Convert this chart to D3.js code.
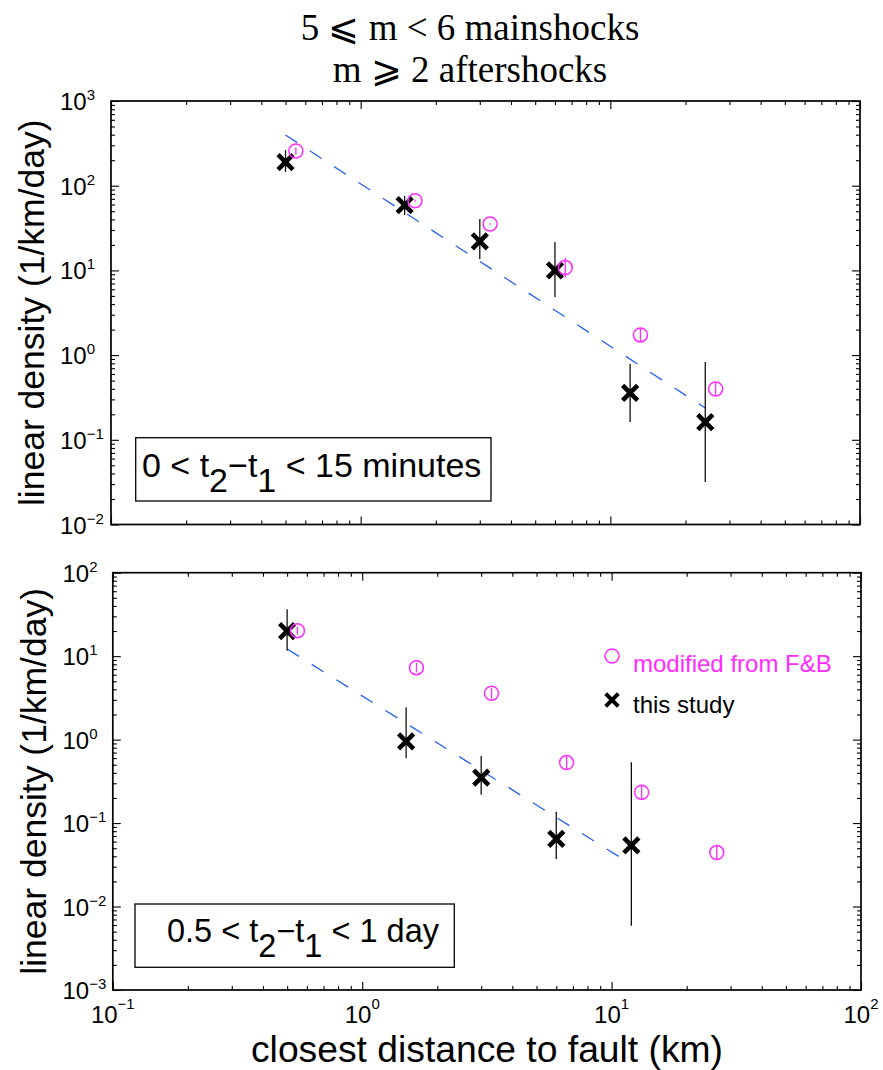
<!DOCTYPE html>
<html><head><meta charset="utf-8">
<script src="https://cdn.jsdelivr.net/npm/d3@7"></script>
<style>body{margin:0;background:#fff} svg{display:block}</style>
</head><body>
<script>
// ---------- data ----------
const titleLines = ["5 \u2A7D m < 6 mainshocks", "m \u2A7E 2 aftershocks"];
const yLabel = "linear density (1/km/day)";
const xLabel = "closest distance to fault (km)";

const xTickExp = [-1, 0, 1, 2];
const yTickExpTop = [-2, -1, 0, 1, 2, 3];
const yTickExpBot = [-3, -2, -1, 0, 1, 2];

// this study (top panel: 0 < t2-t1 < 15 minutes)
const distThisTop = [0.5, 1.5, 3, 6, 12, 24];
const densThisTop = [190, 59, 22, 10, 0.357, 0.162];
const errLoTop = [145, 45, 13.6, 4.85, 0.162, 0.0318];
const errHiTop = [263, 75.5, 40.5, 21.6, 0.785, 0.83];
// modified from F&B (top)
const distFB = [0.55, 1.65, 3.3, 6.6, 13.2, 26.4];
const densFBTop = [257, 66.5, 35.3, 10.8, 1.73, 0.398];
const fbLoTop = [234, 64.7, 34.5, 8.24, 1.45, 0.334];
const fbHiTop = [283, 68.4, 36.1, 14.1, 2.06, 0.474];
// fit (top)
const fitDistTop = [0.5, 24];
const fitDensTop = [397, 0.237];

// this study (bottom panel: 0.5 < t2-t1 < 1 day)
const distThisBot = [0.5, 1.5, 3, 6, 12];
const densThisBot = [20, 0.95, 0.35, 0.0647, 0.054];
const errLoBot = [11.6, 0.598, 0.218, 0.037, 0.0059];
const errHiBot = [36.5, 2.44, 0.638, 0.137, 0.536];
// modified from F&B (bottom)
const densFBBot = [20.2, 7.28, 3.59, 0.531, 0.234, 0.0443];
const fbLoBot = [18.1, 6.39, 3.09, 0.446, 0.19, 0.0369];
const fbHiBot = [22.6, 8.3, 4.16, 0.632, 0.288, 0.0532];
// fit (bottom)
const fitDistBot = [0.5, 12];
const fitDensBot = [12.2, 0.032];

const boxTop = ["0 < t", "2", "\u2212t", "1", " < 15 minutes"];
const boxBot = ["0.5 < t", "2", "\u2212t", "1", " < 1 day"];
const legendLabels = ["modified from F&B", "this study"];

// ---------- styles ----------
const MAG = "#ff2bff", BLUE = "#2460f2", SANS = "'Liberation Sans', Arial, Helvetica, sans-serif",
      SERIF = "'Liberation Serif', 'Times New Roman', serif";

const svg = d3.select("body").append("svg").attr("width", 883).attr("height", 1070);
svg.append("rect").attr("width", 883).attr("height", 1070).attr("fill", "#fff");

// title
svg.append("text").attr("x", 470).attr("y", 40).attr("text-anchor", "middle")
  .attr("font-family", SERIF).attr("font-size", 37).text(titleLines[0]);
svg.append("text").attr("x", 470).attr("y", 82).attr("text-anchor", "middle")
  .attr("font-family", SERIF).attr("font-size", 37).text(titleLines[1]);

function minorVals(lo, hi) {
  const out = [];
  for (let e = lo; e < hi; e++) for (let k = 2; k <= 9; k++) out.push(k * Math.pow(10, e));
  return out;
}

function panel(cfg) {
  const g = svg.append("g");
  const x = d3.scaleLog().domain([0.1, 100]).range([cfg.x0, cfg.x1]);
  const y = d3.scaleLog().domain([Math.pow(10, cfg.yExp[0]), Math.pow(10, cfg.yExp[cfg.yExp.length - 1])]).range([cfg.y1, cfg.y0]);
  const xMaj = xTickExp.map(e => Math.pow(10, e));
  const yMaj = cfg.yExp.map(e => Math.pow(10, e));
  const xMin = minorVals(-1, 2);
  const yMin = minorVals(cfg.yExp[0], cfg.yExp[cfg.yExp.length - 1]);

  const axes = [
    [d3.axisBottom(x), `translate(0,${cfg.y1})`, xMaj, xMin],
    [d3.axisTop(x), `translate(0,${cfg.y0})`, xMaj, xMin],
    [d3.axisLeft(y), `translate(${cfg.x0},0)`, yMaj, yMin],
    [d3.axisRight(y), `translate(${cfg.x1},0)`, yMaj, yMin]
  ];
  axes.forEach(([ax, tr, maj, min]) => {
    [[maj, 8], [min, 4]].forEach(([vals, len]) => {
      const a = g.append("g").attr("transform", tr)
        .call(ax.tickValues(vals).tickSize(-len).tickFormat(""));
      a.select(".domain").remove();
      a.selectAll(".tick line").attr("stroke", "#000").attr("stroke-width", 1.1);
    });
  });
  g.append("rect").attr("x", cfg.x0).attr("y", cfg.y0)
    .attr("width", cfg.x1 - cfg.x0).attr("height", cfg.y1 - cfg.y0)
    .attr("fill", "none").attr("stroke", "#000").attr("stroke-width", 1.7);

  // y tick labels
  cfg.yExp.forEach(e => {
    const t = g.append("text").attr("x", cfg.labX).attr("y", y(Math.pow(10, e)) + 9)
      .attr("font-family", SANS).attr("font-size", 24);
    t.append("tspan").text("10");
    t.append("tspan").attr("dy", -10).attr("font-size", 15).text(e < 0 ? "\u2212" + (-e) : String(e));
  });
  if (cfg.xLabels) {
    xTickExp.forEach(e => {
      const t = g.append("text").attr("x", x(Math.pow(10, e))).attr("y", 1023)
        .attr("text-anchor", "middle").attr("font-family", SANS).attr("font-size", 24);
      t.append("tspan").text("10");
      t.append("tspan").attr("dy", -14).attr("font-size", 15).text(e < 0 ? "\u2212" + (-e) : String(e));
    });
  }
  // y axis label
  g.append("text").attr("transform", `translate(${cfg.yLabX},${(cfg.y0 + cfg.y1) / 2}) rotate(-90)`)
    .attr("text-anchor", "middle").attr("font-family", SANS).attr("font-size", 35.5).text(yLabel);

  // fit line
  g.append("path").datum(cfg.fitDist.map((d, i) => [d, cfg.fitDens[i]]))
    .attr("d", d3.line().x(d => x(d[0])).y(d => y(d[1])))
    .attr("fill", "none").attr("stroke", BLUE).attr("stroke-width", 1.3).attr("stroke-dasharray", "14,15");

  // error bars (this study)
  g.selectAll(".eb").data(cfg.dist).enter().append("line")
    .attr("x1", d => x(d)).attr("x2", d => x(d))
    .attr("y1", (d, i) => y(cfg.lo[i])).attr("y2", (d, i) => y(cfg.hi[i]))
    .attr("stroke", "#111").attr("stroke-width", 1.3);
  // X markers
  g.selectAll(".xm").data(cfg.dist).enter().append("path")
    .attr("transform", (d, i) => `translate(${x(d)},${y(cfg.dens[i])})`)
    .attr("d", "M-7.5,-7.5L7.5,7.5M-7.5,7.5L7.5,-7.5")
    .attr("stroke", "#000").attr("stroke-width", 4.6).attr("fill", "none");
  // F&B error bars + circles
  g.selectAll(".fbe").data(distFB).enter().append("line")
    .attr("x1", d => x(d)).attr("x2", d => x(d))
    .attr("y1", (d, i) => y(cfg.fbLo[i])).attr("y2", (d, i) => y(cfg.fbHi[i]))
    .attr("stroke", MAG).attr("stroke-width", 1.3);
  g.selectAll(".fbc").data(distFB).enter().append("circle")
    .attr("cx", d => x(d)).attr("cy", (d, i) => y(cfg.fb[i])).attr("r", 7)
    .attr("fill", "none").attr("stroke", MAG).attr("stroke-width", 1.5);

  // condition box
  g.append("rect").attr("x", cfg.box[0]).attr("y", cfg.box[1]).attr("width", cfg.box[2]).attr("height", cfg.box[3])
    .attr("fill", "#fff").attr("stroke", "#000").attr("stroke-width", 1.3);
  const bt = g.append("text").attr("x", cfg.boxTextX).attr("y", cfg.boxTextY)
    .attr("font-family", SANS).attr("font-size", cfg.boxFont).style("white-space", "pre");
  const shifts = [0, 15, -15, 15, -15];
  cfg.boxText.forEach((s, i) => bt.append("tspan").attr("dy", shifts[i]).text(s));
  return {g, x, y};
}

panel({x0: 111, x1: 860, y0: 101, y1: 524.5, yExp: yTickExpTop, labX: 60, yLabX: 44,
  dist: distThisTop, dens: densThisTop, lo: errLoTop, hi: errHiTop,
  fb: densFBTop, fbLo: fbLoTop, fbHi: fbHiTop, fitDist: fitDistTop, fitDens: fitDensTop,
  box: [135.7, 437.7, 355.3, 63.3], boxText: boxTop, boxTextX: 142, boxTextY: 477, boxFont: 34, xLabels: false});

panel({x0: 112.8, x1: 861, y0: 572.7, y1: 990, yExp: yTickExpBot, labX: 62.5, yLabX: 46,
  dist: distThisBot, dens: densThisBot, lo: errLoBot, hi: errHiBot,
  fb: densFBBot, fbLo: fbLoBot, fbHi: fbHiBot, fitDist: fitDistBot, fitDens: fitDensBot,
  box: [135, 904, 319.3, 63.3], boxText: boxBot, boxTextX: 167, boxTextY: 942, boxFont: 32.5, xLabels: true});

// legend (bottom panel)
svg.append("circle").attr("cx", 612).attr("cy", 656).attr("r", 7)
  .attr("fill", "none").attr("stroke", MAG).attr("stroke-width", 1.5);
svg.append("text").attr("x", 633).attr("y", 672).attr("font-family", SANS).attr("font-size", 24)
  .attr("fill", MAG).text(legendLabels[0]);
svg.append("path").attr("transform", "translate(612,700)").attr("d", "M-6.3,-6.3L6.3,6.3M-6.3,6.3L6.3,-6.3")
  .attr("stroke", "#000").attr("stroke-width", 4).attr("fill", "none");
svg.append("text").attr("x", 633).attr("y", 713).attr("font-family", SANS).attr("font-size", 24)
  .attr("fill", "#000").text(legendLabels[1]);

// x label
svg.append("text").attr("x", 487).attr("y", 1062).attr("text-anchor", "middle")
  .attr("font-family", SANS).attr("font-size", 36)
  .attr("textLength", 472).attr("lengthAdjust", "spacingAndGlyphs").text(xLabel);
</script>
</body></html>
